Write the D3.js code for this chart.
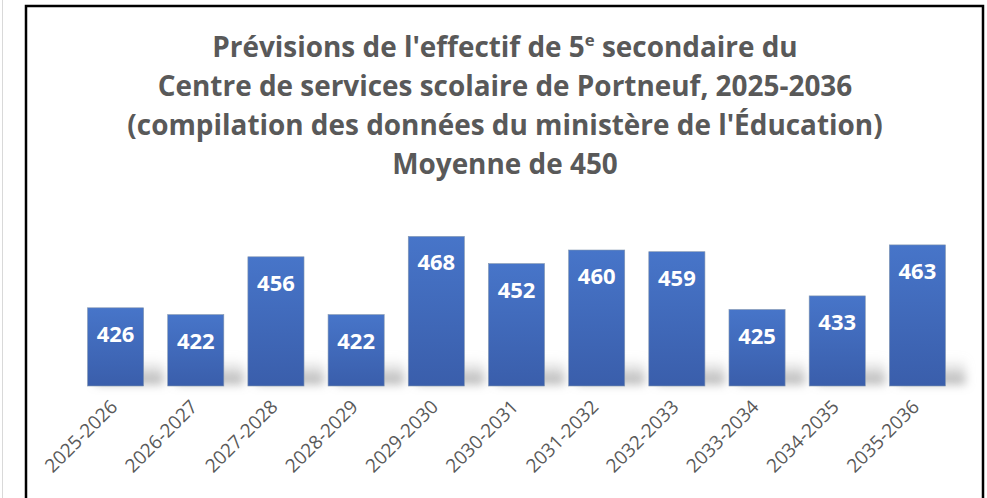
<!DOCTYPE html>
<html><head><meta charset="utf-8">
<script src="https://cdn.jsdelivr.net/npm/d3@7"></script>
<style>
html,body{margin:0;padding:0;background:#fff;}
svg{display:block;}
</style></head>
<body>
<svg id="chart" width="987" height="498"></svg>
<script>
const categories = ["2025-2026","2026-2027","2027-2028","2028-2029","2029-2030","2030-2031","2031-2032","2032-2033","2033-2034","2034-2035","2035-2036"];
const values = [426,422,456,422,468,452,460,459,425,433,463];
const titleLines = ["Prévisions de l'effectif de 5e secondaire du","Centre de services scolaire de Portneuf, 2025-2036","(compilation des données du ministère de l'Éducation)","Moyenne de 450"];
const yDomain = [380, 480];

const svg = d3.select("#chart");
const W = 987, H = 498;
const font = "'Open Sans', sans-serif";
const grey = "#595959";

// outer light line and frame
svg.append("line").attr("x1",2.5).attr("x2",2.5).attr("y1",0).attr("y2",H).attr("stroke","#d9d9d9").attr("stroke-width",1);
svg.append("path").attr("d",`M26,${H+2}V6H983V${H+2}`).attr("fill","none").attr("stroke","#000").attr("stroke-width",2.5);

const defs = svg.append("defs");
const grad = defs.append("linearGradient").attr("id","barGrad").attr("x1",0).attr("y1",0).attr("x2",0).attr("y2",1);
grad.append("stop").attr("offset","0%").attr("stop-color","#4775c9");
grad.append("stop").attr("offset","100%").attr("stop-color","#3a5eab");
const blur = defs.append("filter").attr("id","blur").attr("x","-50%").attr("y","-50%").attr("width","200%").attr("height","200%");
blur.append("feGaussianBlur").attr("stdDeviation",5);
const sg = defs.append("linearGradient").attr("id","shGrad").attr("x1",0).attr("y1",0).attr("x2",0).attr("y2",1);
sg.append("stop").attr("offset","0%").attr("stop-color","#bfbfbf").attr("stop-opacity",0);
sg.append("stop").attr("offset","100%").attr("stop-color","#9a9a9a").attr("stop-opacity",0.85);

const x = d3.scaleBand().domain(categories).range([75.5, 957.5]).paddingInner(0.3).paddingOuter(0.15);
const y = d3.scaleLinear().domain(yDomain).range([386, 216]);

// title
const title = svg.append("text").attr("text-anchor","middle").attr("font-family",font).attr("font-weight",700).attr("fill",grey);
const tspans = [];
titleLines.forEach((t,i)=>{
  const tl = title.append("tspan").attr("x",505).attr("y",57+i*39);
  if (t.includes("5e")) {
    const parts = t.split("5e");
    tl.append("tspan").text(parts[0]+"5");
    tl.append("tspan").attr("baseline-shift","super").attr("font-size","0.6em").text("e");
    tl.append("tspan").text(parts[1]);
  } else tl.text(t);
  tspans.push(tl);
});
title.attr("font-size",27);
const w2 = tspans[1].node().getComputedTextLength();
title.attr("font-size",27*695/w2);

// shadows
const g = svg.append("g");
g.selectAll("rect.sh").data(values).join("rect").attr("class","sh")
  .attr("x",(d,i)=>x(categories[i])+8).attr("width",x.bandwidth()+12)
  .attr("y",y.range()[0]-28).attr("height",26)
  .attr("fill","url(#shGrad)").attr("filter","url(#blur)");

// bars
g.selectAll("rect.bar").data(values).join("rect").attr("class","bar")
  .attr("x",(d,i)=>x(categories[i])).attr("width",x.bandwidth())
  .attr("y",d=>y(d)).attr("height",d=>y(yDomain[0])-y(d))
  .attr("fill","url(#barGrad)").attr("stroke","#8497b0").attr("stroke-width",0.6);

// value labels
g.selectAll("text.val").data(values).join("text").attr("class","val")
  .attr("x",(d,i)=>x(categories[i])+x.bandwidth()/2).attr("y",d=>y(d)+34)
  .attr("text-anchor","middle").attr("font-family",font).attr("font-weight",700)
  .attr("font-size",22).attr("fill","#fff").text(d=>d);

// x axis labels
const xAxis = svg.append("g").attr("transform",`translate(0,${y.range()[0]})`)
  .call(d3.axisBottom(x).tickSize(0).tickPadding(0));
xAxis.select(".domain").remove();
xAxis.selectAll("text").attr("font-family",font).attr("font-size",19).attr("fill",grey)
  .attr("text-anchor","end").attr("dy",0).attr("y",0)
  .attr("transform","translate(3,22) rotate(-45)");
</script>
</body></html>
